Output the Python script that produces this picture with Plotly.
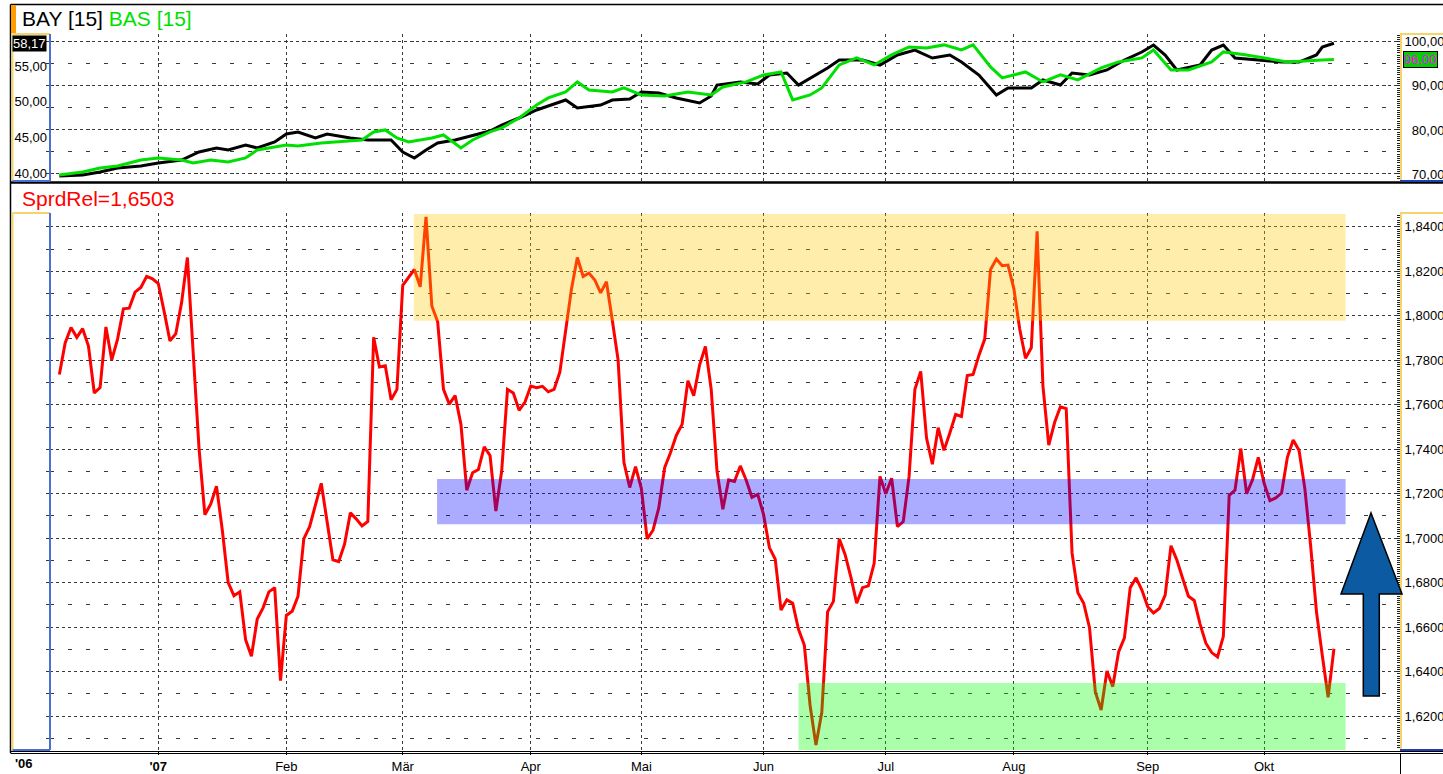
import plotly.graph_objects as go

W, H = 1443, 774

# ---------------- data ----------------
spread = [
    1.7736, 1.7878, 1.7947, 1.7903, 1.7942, 1.7864, 1.7653, 1.7677, 1.7950, 1.7802,
    1.7895, 1.8031, 1.8034, 1.8106, 1.8127, 1.8177, 1.8166, 1.8145, 1.8020, 1.7887,
    1.7919, 1.8059, 1.8262, 1.7809, 1.7403, 1.7106, 1.7153, 1.7234, 1.7036, 1.6802,
    1.6741, 1.6759, 1.6544, 1.6469, 1.6637, 1.6687, 1.6759, 1.6778, 1.6360, 1.6653,
    1.6672, 1.6739, 1.6997, 1.7052, 1.7153, 1.7247, 1.7075, 1.6903, 1.6895, 1.6973,
    1.7114, 1.7087, 1.7055, 1.7075, 1.7903, 1.7770, 1.7775, 1.7622, 1.7669, 1.8137,
    1.8173, 1.8208, 1.8130, 1.8445, 1.8044, 1.7973, 1.7669, 1.7603, 1.7641, 1.7512,
    1.7216, 1.7294, 1.7309, 1.7411, 1.7372, 1.7122, 1.7302, 1.7669, 1.7653, 1.7575,
    1.7612, 1.7684, 1.7677, 1.7683, 1.7658, 1.7669, 1.7747, 1.7934, 1.8122, 1.8262,
    1.8177, 1.8192, 1.8161, 1.8103, 1.8153, 1.7981, 1.7802, 1.7341, 1.7228, 1.7322,
    1.7223, 1.6997, 1.7036, 1.7137, 1.7317, 1.7384, 1.7462, 1.7512, 1.7708, 1.7641,
    1.7778, 1.7862, 1.7669, 1.7302, 1.7130, 1.7262, 1.7255, 1.7325, 1.7262, 1.7184,
    1.7197, 1.7106, 1.6958, 1.6906, 1.6677, 1.6723, 1.6708, 1.6591, 1.6520, 1.6247,
    1.6070, 1.6216, 1.6669, 1.6716, 1.6997, 1.6927, 1.6825, 1.6708, 1.6778, 1.6786,
    1.6887, 1.7278, 1.7200, 1.7270, 1.7052, 1.7075, 1.7278, 1.7669, 1.7750, 1.7450,
    1.7333, 1.7497, 1.7395, 1.7473, 1.7556, 1.7547, 1.7731, 1.7736, 1.7822, 1.7895,
    1.8208, 1.8255, 1.8225, 1.8228, 1.8122, 1.7942, 1.7809, 1.7856, 1.8380, 1.7684,
    1.7419, 1.7520, 1.7591, 1.7583, 1.6934, 1.6755, 1.6708, 1.6598, 1.6309, 1.6228,
    1.6403, 1.6333, 1.6489, 1.6552, 1.6778, 1.6822, 1.6767, 1.6692, 1.6664, 1.6684,
    1.6744, 1.6966, 1.6903, 1.6820, 1.6739, 1.6720, 1.6614, 1.6528, 1.6486, 1.6466,
    1.6559, 1.7192, 1.7216, 1.7403, 1.7200, 1.7262, 1.7364, 1.7247, 1.7169, 1.7181,
    1.7203, 1.7364, 1.7442, 1.7395, 1.7223, 1.6966, 1.6669, 1.6473, 1.6285, 1.6503,
]
days = list(range(len(spread)))

bay_days = [0, 4, 7, 10, 14, 17, 21, 24, 27, 29, 32, 34, 37, 39, 41, 44, 46, 50, 53, 57,
            59, 61, 63, 65, 68, 70, 74, 76, 79, 82, 84, 87, 89, 93, 95, 98, 100, 103, 106,
            110, 112, 113, 117, 120, 122, 125, 127, 130, 132, 134, 138, 141, 144, 147, 150,
            153, 155, 158, 161, 163, 167, 169, 172, 174, 177, 180, 183, 186, 188, 190, 192,
            196, 198, 200, 202, 206, 210, 213, 216, 217, 219]
bay = [39.65, 39.79, 40.21, 40.77, 41.05, 41.46, 41.88, 43.00, 43.56, 43.28, 43.97, 43.56,
       44.39, 45.51, 45.79, 44.95, 45.51, 44.95, 44.67, 44.67, 43.00, 42.16, 43.28, 44.25,
       44.67, 45.09, 45.93, 46.76, 47.74, 48.86, 49.41, 50.25, 49.13, 49.55, 50.25, 50.39,
       51.37, 51.23, 50.53, 49.83, 50.81, 52.34, 52.76, 52.48, 53.74, 54.02, 52.34, 53.74,
       54.71, 55.83, 55.83, 55.13, 56.53, 57.22, 56.11, 56.53, 55.55, 53.74, 50.95, 51.93,
       51.93, 53.04, 52.34, 54.02, 53.74, 54.44, 55.83, 56.95, 57.92, 56.53, 54.44, 55.13,
       57.22, 57.92, 56.11, 55.83, 55.55, 55.55, 56.53, 57.64, 58.17]

bas_days = [0, 4, 7, 10, 14, 17, 21, 23, 26, 29, 32, 34, 39, 41, 45, 48, 52, 54, 56, 58,
            60, 64, 66, 69, 71, 74, 76, 79, 82, 84, 87, 89, 91, 95, 97, 100, 104, 108, 112,
            114, 118, 121, 124, 126, 129, 131, 134, 137, 140, 143, 146, 149, 152, 155, 157,
            160, 162, 166, 169, 172, 175, 179, 182, 186, 188, 191, 194, 198, 200, 204, 207,
            211, 217, 219]
bas = [69.77, 70.45, 71.36, 71.82, 73.18, 73.64, 73.18, 72.50, 73.18, 72.73, 73.64, 75.45,
       76.59, 76.36, 77.05, 77.27, 77.73, 79.55, 80.00, 78.18, 77.27, 78.18, 78.86, 75.91,
       77.73, 79.55, 80.45, 82.73, 85.68, 87.27, 88.64, 90.91, 89.09, 88.64, 89.55, 87.95,
       87.73, 88.64, 87.95, 89.77, 90.91, 92.50, 93.18, 86.82, 87.95, 89.55, 94.77, 96.36,
       94.77, 97.05, 98.86, 98.64, 99.32, 98.18, 99.32, 94.32, 91.82, 93.18, 90.91, 92.50,
       91.36, 94.09, 95.45, 96.36, 98.18, 93.64, 93.64, 95.45, 97.73, 97.05, 96.36, 95.45,
       95.91, 96.00]

month_idx = [17, 39, 59, 81, 100, 121, 142, 164, 187, 207]
month_lbl = ["<b>'07</b>", "Feb", "Mär", "Apr", "Mai", "Jun", "Jul", "Aug", "Sep", "Okt"]

bay_ticks = [40, 45, 50, 55]
bas_ticks = [70, 80, 90, 100]

# zones (index / value)
zone_yellow = (60.9, 221.0, 1.7978, 1.8458)
zone_blue = (64.9, 221.0, 1.7063, 1.7266)
zone_green = (127.0, 221.0, 1.6000, 1.6349)

# ---------------- helpers ----------------
def px(x):
    return x / W


def py(y):
    return 1 - y / H


XL, XR = 50, 1400
TOP_T, TOP_B = 34, 181
BOT_T, BOT_B = 213, 750

FONT = "Arial, Liberation Sans, sans-serif"
GRID = "#3a3a3a"
YEL = "#f5d56a"
BLU = "#4a6fd8"

BAY_R = [38.95, 59.46]
BAS_R = [68.4, 101.8]
SPR_R = [1.6048, 1.8462]

fig = go.Figure()

fig.add_trace(go.Scatter(x=bay_days, y=bay, mode="lines", line=dict(color="black", width=3),
                         xaxis="x2", yaxis="y", hoverinfo="skip", showlegend=False))
fig.add_trace(go.Scatter(x=bas_days, y=bas, mode="lines", line=dict(color="#00e000", width=3),
                         xaxis="x2", yaxis="y2", hoverinfo="skip", showlegend=False))
fig.add_trace(go.Scatter(x=days, y=spread, mode="lines", line=dict(color="#ff0000", width=3),
                         xaxis="x", yaxis="y3", hoverinfo="skip", showlegend=False))
# empty traces so the ruler axes get rendered
for xa, ya in [("x", "y4"), ("x2", "y5"), ("x", "y6"), ("x2", "y7")]:
    fig.add_trace(go.Scatter(x=[None], y=[None], mode="lines", xaxis=xa, yaxis=ya,
                             hoverinfo="skip", showlegend=False))

x_range = [(XL - 59.36) / 5.82, (XR - 59.36) / 5.82]

xcommon = dict(range=x_range, tickvals=month_idx, showgrid=True, gridcolor=GRID, gridwidth=1,
               griddash="3px,3px", zeroline=False, showline=False, domain=[px(XL), px(XR)])

top_dom = [py(TOP_B), py(TOP_T)]
bot_dom = [py(BOT_B), py(BOT_T)]

fig.update_layout(
    width=W, height=H,
    margin=dict(l=0, r=0, t=0, b=0),
    paper_bgcolor="white", plot_bgcolor="white",
    separators=",.",
    showlegend=False,
    font=dict(family=FONT, size=13, color="black"),
    xaxis=dict(**xcommon, anchor="y3", ticktext=month_lbl, ticks="outside", ticklen=4,
               tickcolor="black", tickfont=dict(size=13)),
    xaxis2=dict(**xcommon, anchor="y", matches="x", showticklabels=False, ticks=""),
    yaxis=dict(domain=top_dom, range=BAY_R, side="left", anchor="x2",
               tickvals=bay_ticks, tickformat=".2f", showgrid=False, zeroline=False,
               ticks="", ticklabelstandoff=2, showline=False),
    yaxis2=dict(domain=top_dom, range=BAS_R, side="right", overlaying="y",
                anchor="x2", tickvals=bas_ticks, ticktext=["\u200770,00", "\u200780,00", "\u200790,00", "100,00"],
                showgrid=True, gridcolor=GRID, griddash="3px,3px", zeroline=False,
                minor=dict(dtick=5, tick0=70, showgrid=True, gridcolor=GRID, griddash="4px,14px"),
                ticks="", showline=True, linecolor=YEL, linewidth=2),
    yaxis3=dict(domain=bot_dom, range=SPR_R, side="right", anchor="x",
                dtick=0.02, tick0=1.6, tickformat=".4f",
                showgrid=True, gridcolor=GRID, griddash="3px,3px", zeroline=False,
                minor=dict(dtick=0.01, tick0=1.6, showgrid=True, gridcolor=GRID, griddash="4px,14px"),
                ticks="", showline=True, linecolor=YEL, linewidth=2),
    # dotted tick rulers on the right axes
    yaxis4=dict(domain=bot_dom, range=SPR_R, side="right", overlaying="y3", anchor="x",
                showgrid=False, zeroline=False, showticklabels=False, dtick=0.001, tick0=1.6,
                ticks="inside", ticklen=3, tickwidth=1, tickcolor="#222"),
    yaxis5=dict(domain=top_dom, range=BAS_R, side="right", overlaying="y", anchor="x2",
                showgrid=False, zeroline=False, showticklabels=False, dtick=0.5, tick0=70,
                ticks="inside", ticklen=3, tickwidth=1, tickcolor="#222"),
    # ticks on the blue left axes
    yaxis6=dict(domain=bot_dom, range=SPR_R, side="left", overlaying="y3", anchor="x",
                showgrid=False, zeroline=False, showticklabels=False, dtick=0.01, tick0=1.6,
                ticks="outside", ticklen=3, tickwidth=1, tickcolor="#333"),
    yaxis7=dict(domain=top_dom, range=BAS_R, side="left", overlaying="y", anchor="x2",
                showgrid=False, zeroline=False, showticklabels=False, dtick=5, tick0=70,
                ticks="outside", ticklen=3, tickwidth=1, tickcolor="#333"),
)

shapes = []
# zones drawn on top, translucent
for (x0, x1, y0, y1), col in [(zone_yellow, "rgb(255,200,0)"), (zone_blue, "rgb(0,0,255)"),
                               (zone_green, "rgb(0,255,0)")]:
    shapes.append(dict(type="rect", xref="x", yref="y3", x0=x0, x1=x1, y0=y0, y1=y1,
                       fillcolor=col, opacity=0.33, line=dict(width=0), layer="above"))


def line(x0, y0, x1, y1, color, width=1):
    shapes.append(dict(type="line", xref="paper", yref="paper", x0=px(x0), y0=py(y0),
                       x1=px(x1), y1=py(y1), line=dict(color=color, width=width), layer="above"))


# frame
line(10.5, 4.5, W, 4.5, "black", 1.5)
line(10.5, 4.5, 10.5, 753, "black", 1.5)
line(10.5, 182.5, W, 182.5, "black", 2.5)
line(10.5, 751.5, W, 751.5, "black", 1)
line(10.5, 753.5, W, 753.5, "black", 1)
line(1400.5, 753, 1400.5, H, "black", 1)
# orange marker in title row
shapes.append(dict(type="rect", xref="paper", yref="paper", x0=px(11), x1=px(16), y0=py(33), y1=py(5),
                   fillcolor="#ff9c00", line=dict(width=0), layer="above"))
# left strips (bevel boxes)
for t, b in [(TOP_T, TOP_B), (BOT_T, BOT_B)]:
    line(12.5, t, 12.5, b, YEL, 2)
    line(12.5, t, XL, t, YEL, 2)
    line(XL, t, XL, b, BLU, 2)
    line(12.5, b, XL, b, BLU, 2)
    line(XR, t, W, t, YEL, 2)
    line(XR, b, W, b, "#1f3fb0", 2)
# arrow
ax = [(1371, 513), (1402, 594), (1379.3, 594), (1379.3, 696), (1363.3, 696), (1363.3, 594), (1341, 594)]
path = "M " + " L ".join(f"{px(a)},{py(b)}" for a, b in ax) + " Z"
shapes.append(dict(type="path", xref="paper", yref="paper", path=path, fillcolor="#0c5aa2",
                   line=dict(color="black", width=1.5), layer="above"))
fig.update_layout(shapes=shapes)

ann = []
ann.append(dict(xref="paper", yref="paper", x=px(20), y=py(19), xanchor="left", yanchor="middle",
                text="BAY [15] <span style='color:#00e000'>BAS [15]</span>", showarrow=False,
                font=dict(size=21, color="black", family=FONT)))
ann.append(dict(xref="paper", yref="paper", x=px(20), y=py(198), xanchor="left", yanchor="middle",
                text="SprdRel=" + f"{spread[-1]:.4f}".replace(".", ","), showarrow=False,
                font=dict(size=21, color="#ff0000", family=FONT)))
ann.append(dict(xref="paper", yref="paper", x=px(13), y=py(763), xanchor="left", yanchor="middle",
                text="<b>'06</b>", showarrow=False, font=dict(size=13, color="black", family=FONT)))
ann.append(dict(xref="paper", yref="y", x=px(47), y=bay[-1], xanchor="right", yanchor="middle",
                text=f"{bay[-1]:.2f}".replace(".", ","), showarrow=False, bgcolor="black",
                borderpad=0, font=dict(size=13, color="white", family=FONT)))
ann.append(dict(xref="paper", yref="y2", x=px(1403), y=bas[-1], xanchor="left", yanchor="middle",
                text=f"{bas[-1]:.2f}".replace(".", ","), showarrow=False, bgcolor="#00d000",
                bordercolor="black", borderwidth=1, borderpad=0,
                font=dict(size=13, color="#ff00ff", family=FONT)))
fig.update_layout(annotations=ann)

fig.write_html("out.html", config={"displayModeBar": False},
               post_script="document.body.style.margin='0';document.body.style.overflow='hidden';")
